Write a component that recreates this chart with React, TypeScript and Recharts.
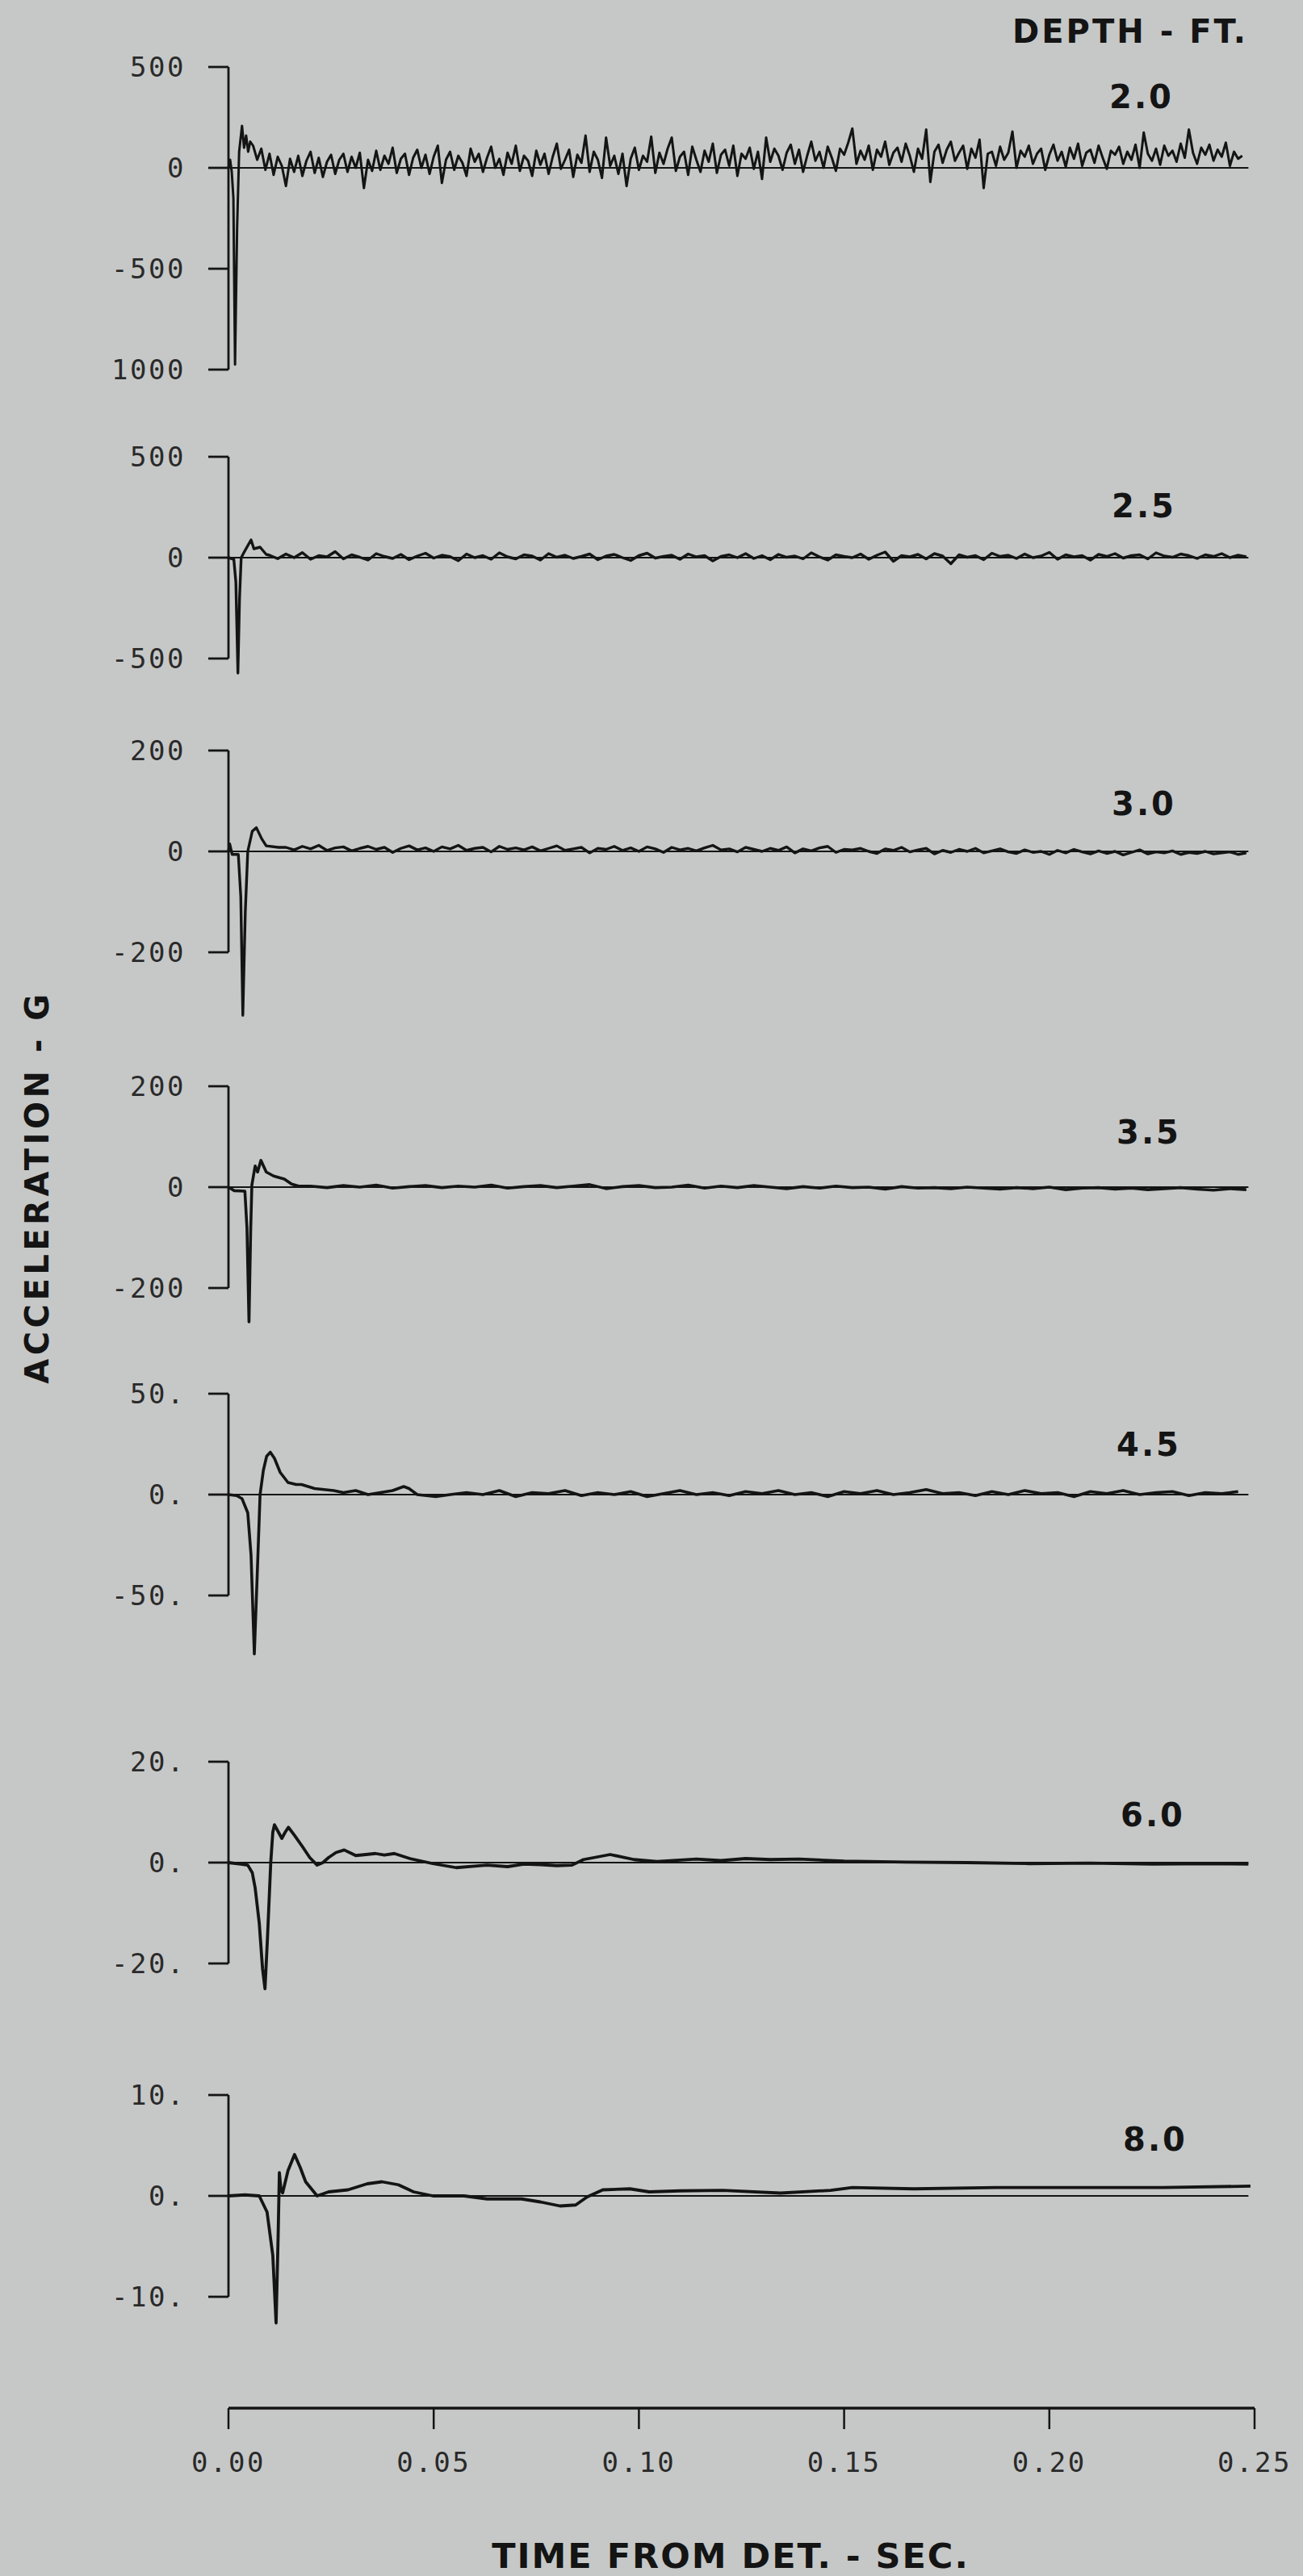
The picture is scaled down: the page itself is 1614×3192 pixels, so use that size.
import React from 'react';
import { LineChart, Line, XAxis, YAxis, ReferenceLine } from 'recharts';

const PAGE_W = 1614;
const PAGE_H = 3192;
const PAPER = '#c6c8c7';
const INK = '#141414';
const TICK_INK = '#2a2a2a';
const PLOT_LEFT = 283;
const PLOT_RIGHT_MARGIN = 60;
const X_AXIS_Y = 2984;

const DEPTHS = ['2.0', '2.5', '3.0', '3.5', '4.5', '6.0', '8.0'];

const X_TICKS = [0, 0.05, 0.1, 0.15, 0.2, 0.25];
const X_TICK_LABELS = ['0.00', '0.05', '0.10', '0.15', '0.20', '0.25'];

// y ticks per depth
const TICKS_20 = [500, 0, -500, -1000];
const LABELS_20 = ['500', '0', '-500', '1000'];
const TICKS_25 = [500, 0, -500];
const LABELS_25 = ['500', '0', '-500'];
const TICKS_30 = [200, 0, -200];
const LABELS_30 = ['200', '0', '-200'];
const TICKS_35 = [200, 0, -200];
const LABELS_35 = ['200', '0', '-200'];
const TICKS_45 = [50, 0, -50];
const LABELS_45 = ['50.', '0.', '-50.'];
const TICKS_60 = [20, 0, -20];
const LABELS_60 = ['20.', '0.', '-20.'];
const TICKS_80 = [10, 0, -10];
const LABELS_80 = ['10.', '0.', '-10.'];

// [time s, accel g] around the detonation pulse
const HEAD_20: [number, number][] = [
  [0, 0], [0.0004, 40], [0.0008, -20], [0.0012, -150], [0.0016, -975], [0.0021, -300],
  [0.0026, 80], [0.0033, 208], [0.0038, 100], [0.0043, 160], [0.0048, 80], [0.0053, 130],
];
// sampled every 1 ms from 6 ms
const TAIL_20 = [
  110, 40, 95, -10, 70, -35, 55, 10, -90, 45,
  -20, 60, -40, 35, 80, -25, 50, -45, 30, 65,
  -30, 40, 70, -20, 55, 0, 75, -100, 40, -15,
  85, -10, 60, 20, 100, -25, 45, 70, -35, 50,
  90, 0, 65, -30, 55, 110, -75, 40, 80, -10,
  60, 25, -40, 95, 30, 70, -20, 50, 105, 0,
  45, -35, 75, 20, 110, -15, 60, 35, -40, 85,
  15, 70, -30, 55, 120, -5, 40, 90, -45, 65,
  25, 160, -20, 80, 40, -50, 150, 10, 60, -30,
  70, -90, 45, 100, -10, 60, 30, 155, -25, 75,
  20, 95, 150, -15, 55, 80, -35, 105, 40, -20,
  85, 30, 120, -25, 65, 90, 10, 110, -40, 70,
  45, 100, -5, 80, -55, 150, 30, 95, 60, -10,
  75, 115, 20, 90, -20, 60, 130, 35, 80, 0,
  105, 50, -15, 95, 65, 125, 195, 20, 85, 40,
  110, -10, 90, 55, 130, 15, 75, 100, 30, 120,
  60, -20, 95, 45, 190, -70, 80, 115, 25, 90,
  130, 35, 75, 110, -5, 95, 50, 140, -100, 70,
  80, 10, 105, 40, 75, 180, 0, 85, 55, 110,
  20, 70, 95, -10, 65, 115, 35, 80, 5, 100,
  45, 120, 10, 75, 90, 25, 110, 50, -5, 85,
  65, 105, 20, 80, 40, 115, 0, 175, 70, 35,
  95, 15, 110, 60, 85, 30, 120, 50, 190, 75,
  20, 100, 65, 115, 35, 90, 55, 125, 10, 80,
  45, 60,
];

const HEAD_25: [number, number][] = [
  [0, 0], [0.0013, -8], [0.0018, -120], [0.0023, -572], [0.0027, -200], [0.0031, 0],
  [0.004, 34], [0.0055, 88], [0.0062, 44], [0.0077, 52], [0.0092, 16],
];
// every 2 ms from 10 ms
const TAIL_25 = [
  12, -5, 18, 0, 25, -8, 10, 4, 30, -6,
  14, 2, -12, 20, 6, -4, 16, -10, 8, 22,
  -2, 12, 5, -15, 18, 0, 10, -8, 24, 4,
  -6, 14, 8, -12, 20, 2, 12, -4, 6, 18,
  -10, 8, 16, 0, -14, 10, 22, -2, 6, 12,
  -8, 18, 4, 10, -16, 6, 14, 0, 20, -4,
  10, -10, 16, 2, 8, -6, 24, 4, -12, 14,
  6, 0, 18, -8, 12, 28, -18, 10, 4, 16,
  -6, 20, 8, -30, 14, 2, 10, -10, 22, 6,
  12, -4, 18, 0, 8, 26, -8, 14, 4, 10,
  -12, 16, 6, 20, -2, 10, 14, -6, 24, 8,
  2, 18, 10, -4, 14, 6, 20, 0, 12, 4,
];

const HEAD_30: [number, number][] = [
  [0, 0], [0.0003, 15], [0.0009, -6], [0.0024, -6], [0.003, -90], [0.0035, -325],
  [0.0041, -120], [0.0047, 0], [0.0058, 40], [0.0068, 47], [0.0081, 25], [0.0092, 11],
  [0.0122, 8],
];
// every 2 ms from 14 ms
const TAIL_30 = [
  8, 3, 10, 5, 12, 2, 7, 9, 1, 6,
  10, 4, 8, -2, 6, 11, 3, 7, 0, 9,
  5, 12, 2, 6, 8, -1, 10, 4, 7, 3,
  9, 1, 6, 11, 2, 5, 8, -3, 6, 4,
  10, 2, 7, 0, 9, 5, -2, 8, 3, 6,
  1, 7, 12, 3, 5, -1, 8, 4, 0, 6,
  2, 9, -3, 5, 1, 7, 10, -2, 4, 3,
  6, 0, -4, 5, 2, 8, -1, 3, 6, -5,
  2, -2, 4, 0, 6, -3, 1, 5, -1, -4,
  3, -2, 0, -6, 2, -3, 4, -1, -5, 1,
  -4, 0, -7, -2, 3, -5, -1, -3, 1, -6,
  -2, -4, 0, -5, -3, -1, -6, -3,
];

const HEAD_35: [number, number][] = [
  [0, 0], [0.0014, -7], [0.004, -8], [0.0045, -80], [0.005, -267], [0.0054, -90],
  [0.0057, 4], [0.0065, 42], [0.0071, 30], [0.0079, 53], [0.0092, 30], [0.011, 22],
  [0.0136, 16], [0.0154, 6], [0.0171, 2],
];
// every 4 ms from 20 ms
const TAIL_35 = [
  2, -1, 3, 0, 4, -2, 1, 3, -1, 2,
  0, 4, -2, 1, 3, -1, 2, 5, -3, 1,
  3, -1, 0, 4, -2, 2, -1, 3, 0, -3,
  1, -2, 2, -1, 0, -4, 1, -2, -1, -3,
  0, -2, -4, -1, -3, 0, -5, -2, -1, -4,
  -2, -5, -3, -1, -4, -6, -3, -5,
];

const HEAD_45: [number, number][] = [
  [0, 0], [0.002, -0.5], [0.0033, -2], [0.0047, -9], [0.0055, -30], [0.0063, -79],
  [0.007, -40], [0.0077, 0], [0.0085, 12], [0.0093, 19], [0.0102, 21], [0.0112, 18],
  [0.0126, 11], [0.0145, 6], [0.0165, 5], [0.0178, 5], [0.021, 3], [0.0256, 2],
  [0.028, 1], [0.031, 2], [0.034, 0], [0.037, 1], [0.04, 2], [0.0427, 4], [0.044, 3],
  [0.046, 0], [0.0505, -1], [0.054, 0],
];
// every 4 ms from 58 ms
const TAIL_45 = [
  1, 0, 2, -1, 1, 0.5, 2, -0.5, 1, 0,
  1.5, -1, 0.5, 2, 0, 1, -0.5, 1.5, 0.5, 2,
  0, 1, -1, 1.5, 0.5, 2, 0, 1, 2.5, 0.5,
  1, -0.5, 1.5, 0, 2, 0.5, 1, -1, 1.5, 0.5,
  2, 0, 1, 1.5, -0.5, 1, 0.5, 1.5,
];

const HEAD_60: [number, number][] = [
  [0, 0], [0.003, -0.3], [0.0047, -0.5], [0.0058, -2], [0.0065, -5], [0.0075, -12],
  [0.0083, -21], [0.0089, -25], [0.0095, -15], [0.0103, 0], [0.0108, 6], [0.0112, 7.5],
  [0.0122, 6], [0.013, 4.8], [0.0138, 6], [0.0146, 7], [0.016, 5.5], [0.018, 3.2],
  [0.0198, 1], [0.0216, -0.5], [0.023, 0], [0.0244, 1], [0.0262, 2], [0.0282, 2.5],
  [0.03, 1.8], [0.031, 1.4], [0.0335, 1.6], [0.0358, 1.8], [0.038, 1.5], [0.0404, 1.8],
  [0.0442, 0.8], [0.0498, -0.2], [0.0555, -1], [0.06, -0.7], [0.063, -0.5], [0.068, -0.8],
  [0.072, -0.3], [0.076, -0.4], [0.08, -0.6], [0.0837, -0.5], [0.0865, 0.6], [0.093, 1.6],
  [0.0988, 0.6], [0.1044, 0.2], [0.11, 0.5], [0.114, 0.7], [0.12, 0.4], [0.126, 0.8],
  [0.132, 0.6], [0.139, 0.7], [0.15, 0.3], [0.165, 0.1], [0.18, 0], [0.195, -0.2],
  [0.21, -0.1], [0.225, -0.3], [0.24, -0.2], [0.2485, -0.3],
];

const HEAD_80: [number, number][] = [
  [0, 0], [0.004, 0.1], [0.0075, 0], [0.0094, -1.6], [0.0108, -5.9], [0.0116, -12.6],
  [0.0121, -4], [0.0124, 2.3], [0.0128, 0.6], [0.0132, 0.3], [0.0145, 2.5], [0.0161, 4.1],
  [0.0175, 2.8], [0.0188, 1.4], [0.0216, 0], [0.0244, 0.4], [0.0291, 0.6], [0.0338, 1.2],
  [0.0374, 1.4], [0.0414, 1.1], [0.0451, 0.4], [0.0498, 0], [0.0574, 0], [0.063, -0.3],
  [0.0714, -0.3], [0.076, -0.6], [0.0808, -1.0], [0.0846, -0.9], [0.0874, -0.1],
  [0.0912, 0.6], [0.0978, 0.7], [0.1025, 0.4], [0.11, 0.5], [0.1204, 0.55], [0.1345, 0.28],
  [0.1467, 0.55], [0.152, 0.83], [0.167, 0.7], [0.187, 0.83], [0.2075, 0.83],
  [0.2277, 0.83], [0.249, 0.97],
];

type PanelDef = {
  depth: string;
  ticks: number[];
  labels: string[];
  head: [number, number][];
  tail: number[];
  tailStart: number;
  tailStep: number;
  // layout
  top: number; // px of top tick
  ppu: number; // px per g
  lo: number;
  labelX: number;
  labelY: number;
  sw: number;
};

const PANELS: PanelDef[] = [
  { depth: DEPTHS[0], ticks: TICKS_20, labels: LABELS_20, head: HEAD_20, tail: TAIL_20, tailStart: 0.006, tailStep: 0.001, top: 83, ppu: 0.25, lo: -1050, labelX: 1414, labelY: 134, sw: 3 },
  { depth: DEPTHS[1], ticks: TICKS_25, labels: LABELS_25, head: HEAD_25, tail: TAIL_25, tailStart: 0.01, tailStep: 0.002, top: 566, ppu: 0.25, lo: -650, labelX: 1417, labelY: 641, sw: 3.4 },
  { depth: DEPTHS[2], ticks: TICKS_30, labels: LABELS_30, head: HEAD_30, tail: TAIL_30, tailStart: 0.014, tailStep: 0.002, top: 930, ppu: 0.625, lo: -350, labelX: 1417, labelY: 1010, sw: 3.4 },
  { depth: DEPTHS[3], ticks: TICKS_35, labels: LABELS_35, head: HEAD_35, tail: TAIL_35, tailStart: 0.02, tailStep: 0.004, top: 1346, ppu: 0.625, lo: -300, labelX: 1423, labelY: 1417, sw: 3.6 },
  { depth: DEPTHS[4], ticks: TICKS_45, labels: LABELS_45, head: HEAD_45, tail: TAIL_45, tailStart: 0.058, tailStep: 0.004, top: 1727, ppu: 2.5, lo: -90, labelX: 1423, labelY: 1804, sw: 3.6 },
  { depth: DEPTHS[5], ticks: TICKS_60, labels: LABELS_60, head: HEAD_60, tail: [], tailStart: 0, tailStep: 0, top: 2183, ppu: 6.25, lo: -30, labelX: 1428, labelY: 2263, sw: 3.8 },
  { depth: DEPTHS[6], ticks: TICKS_80, labels: LABELS_80, head: HEAD_80, tail: [], tailStart: 0, tailStep: 0, top: 2596, ppu: 12.5, lo: -21, labelX: 1431, labelY: 2665, sw: 3.8 },
];

const MONO = "'DejaVu Sans Mono', monospace";
const BOLD = "'DejaVu Sans', sans-serif";

const tickStyle = { fontFamily: MONO, fontSize: 34, fill: TICK_INK, letterSpacing: 2.5 };

function Panel({ p, last }: { p: PanelDef; last: boolean }) {
  const data = [
    ...p.head.map(([t, g]) => ({ t, g })),
    ...p.tail.map((g, i) => ({ t: +(p.tailStart + i * p.tailStep).toFixed(4), g })),
  ];
  const hi = p.ticks[0];
  const bottomTick = p.ticks[p.ticks.length - 1];
  const lo = last ? hi - (X_AXIS_Y - p.top) / p.ppu : p.lo;
  const plotH = (hi - lo) * p.ppu;
  const mt = 40;
  const mb = 10;
  const xh = last ? 150 : 0;
  const height = mt + plotH + xh + mb;

  return (
    <div style={{ position: 'absolute', left: 0, top: p.top - mt }}>
      <LineChart
        width={PAGE_W}
        height={height}
        data={data}
        margin={{ top: mt, right: PLOT_RIGHT_MARGIN, bottom: mb, left: 0 }}
      >
        <XAxis
          type="number"
          dataKey="t"
          domain={[0, 0.25]}
          hide={!last}
          height={last ? xh : 30}
          ticks={X_TICKS}
          interval={0}
          tickFormatter={(v: number) => X_TICK_LABELS[X_TICKS.indexOf(v)] ?? String(v)}
          tickSize={26}
          tickMargin={29}
          axisLine={{ stroke: INK, strokeWidth: 3.5 }}
          tickLine={{ stroke: INK, strokeWidth: 2.5 }}
          tick={tickStyle}
        />
        <YAxis
          type="number"
          domain={[lo, hi]}
          ticks={p.ticks}
          interval={0}
          width={PLOT_LEFT}
          tickSize={25}
          tickMargin={28}
          axisLine={false}
          tickLine={{ stroke: INK, strokeWidth: 2.8 }}
          tick={tickStyle}
          tickFormatter={(v: number) => p.labels[p.ticks.indexOf(v)] ?? String(v)}
        />
        <ReferenceLine
          segment={[{ x: 0, y: hi }, { x: 0, y: bottomTick }]}
          stroke={INK}
          strokeWidth={2.8}
        />
        <ReferenceLine
          segment={[{ x: 0, y: 0 }, { x: 0.2485, y: 0 }]}
          stroke={INK}
          strokeWidth={1.8}
        />
        <Line
          type="linear"
          dataKey="g"
          stroke={INK}
          strokeWidth={p.sw}
          strokeLinejoin="round"
          dot={false}
          isAnimationActive={false}
        />
      </LineChart>
    </div>
  );
}

export default function App() {
  return (
    <div
      style={{
        position: 'absolute',
        left: 0,
        top: 0,
        width: PAGE_W,
        height: PAGE_H,
        background: PAPER,
        overflow: 'hidden',
      }}
    >
      {PANELS.map((p, i) => (
        <Panel key={p.depth} p={p} last={i === PANELS.length - 1} />
      ))}
      <svg
        width={PAGE_W}
        height={PAGE_H}
        style={{ position: 'absolute', left: 0, top: 0, pointerEvents: 'none' }}
      >
        <text x={1400} y={53} textAnchor="middle" fontFamily={BOLD} fontWeight="bold" fontSize={40} letterSpacing={3} fill={INK}>
          DEPTH - FT.
        </text>
        {PANELS.map((p) => (
          <text key={p.depth} x={p.labelX} y={p.labelY} textAnchor="middle" fontFamily={BOLD} fontWeight="bold" fontSize={40} letterSpacing={3} fill={INK}>
            {p.depth}
          </text>
        ))}
        <text
          x={60}
          y={1471}
          transform="rotate(-90 60 1471)"
          textAnchor="middle"
          fontFamily={BOLD}
          fontWeight="bold"
          fontSize={40}
          letterSpacing={4.5}
          fill={INK}
        >
          ACCELERATION - G
        </text>
        <text x={905} y={3182} textAnchor="middle" fontFamily={BOLD} fontWeight="bold" fontSize={43} letterSpacing={2} fill={INK}>
          TIME FROM DET. - SEC.
        </text>
      </svg>
    </div>
  );
}
